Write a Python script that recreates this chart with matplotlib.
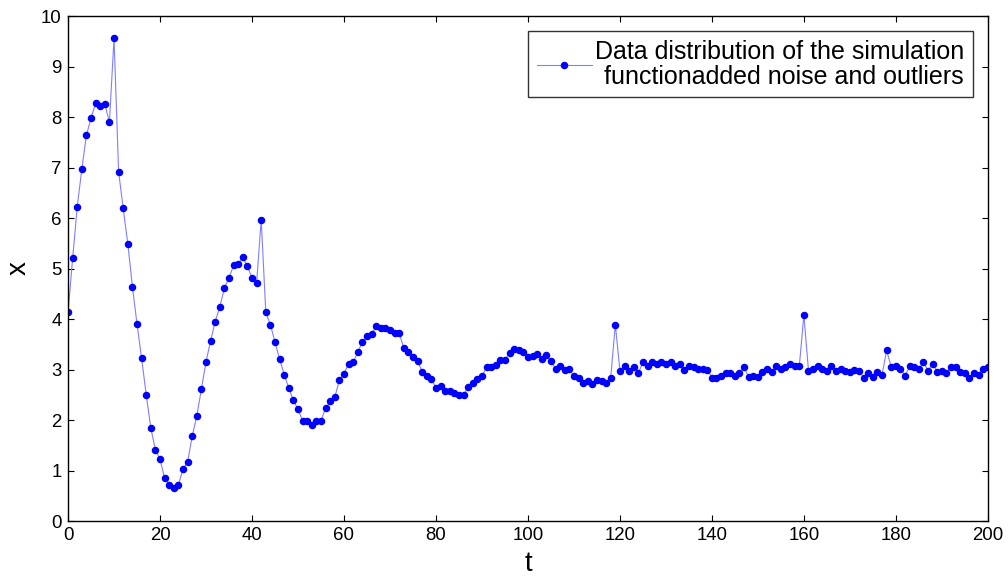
import numpy as np
import matplotlib
matplotlib.use("Agg")
import matplotlib.pyplot as plt

plt.rcParams["font.family"] = ["Liberation Sans", "DejaVu Sans"]

# values, one per integer t = 0..200
x_vals = [
    4.13, 5.20, 6.22, 6.97, 7.64, 7.98, 8.27, 8.21, 8.25, 7.90,   # 0-9
    9.56, 6.91, 6.19, 5.49, 4.64, 3.90, 3.22, 2.50, 1.84, 1.41,   # 10-19
    1.22, 0.85, 0.72, 0.66, 0.72, 1.03, 1.17, 1.68, 2.08, 2.61,   # 20-29
    3.15, 3.57, 3.95, 4.24, 4.61, 4.82, 5.06, 5.09, 5.22, 5.04,   # 30-39
    4.82, 4.71, 5.97, 4.13, 3.89, 3.54, 3.21, 2.90, 2.63, 2.39,   # 40-49
    2.21, 1.99, 1.99, 1.91, 1.99, 1.99, 2.23, 2.37, 2.45, 2.79,   # 50-59
    2.92, 3.11, 3.14, 3.35, 3.54, 3.66, 3.70, 3.86, 3.83, 3.83,   # 60-69
    3.78, 3.73, 3.72, 3.43, 3.35, 3.25, 3.17, 2.96, 2.88, 2.82,   # 70-79
    2.64, 2.68, 2.58, 2.58, 2.54, 2.49, 2.49, 2.66, 2.74, 2.82,   # 80-89
    2.88, 3.04, 3.04, 3.09, 3.19, 3.19, 3.33, 3.41, 3.38, 3.35,   # 90-99
    3.25, 3.27, 3.30, 3.21, 3.28, 3.17, 3.01, 3.06, 3.00, 3.01,   # 100-109
    2.87, 2.84, 2.74, 2.77, 2.71, 2.80, 2.77, 2.74, 2.84, 3.89,   # 110-119
    2.98, 3.06, 2.97, 3.04, 2.93, 3.14, 3.06, 3.14, 3.11, 3.14,   # 120-129
    3.11, 3.14, 3.06, 3.11, 3.00, 3.06, 3.04, 3.01, 3.01, 3.00,   # 130-139
    2.84, 2.84, 2.88, 2.94, 2.94, 2.88, 2.93, 3.04, 2.85, 2.88,   # 140-149
    2.85, 2.96, 3.01, 2.96, 3.07, 3.01, 3.04, 3.10, 3.06, 3.06,   # 150-159
    4.08, 2.98, 3.01, 3.07, 3.01, 2.97, 3.06, 2.97, 3.01, 2.98,   # 160-169
    2.96, 3.00, 2.98, 2.84, 2.93, 2.86, 2.96, 2.90, 3.38, 3.04,   # 170-179
    3.07, 3.01, 2.88, 3.06, 3.04, 3.01, 3.14, 2.98, 3.11, 2.96,   # 180-189
    2.98, 2.93, 3.04, 3.04, 2.96, 2.93, 2.84, 2.93, 2.90, 3.01,   # 190-199
    3.04,                                                         # 200
]
t_vals = np.arange(len(x_vals))

x_ticks = list(range(0, 201, 20))
y_ticks = list(range(0, 11))
legend_label = "Data distribution of the simulation\nfunctionadded noise and outliers"

fig = plt.figure(figsize=(10.08, 5.78), dpi=100)
ax = fig.add_axes([0.0675, 0.0986, 0.9125, 0.8737])

ax.plot(t_vals, x_vals, color="#7f7fff", lw=0.8, marker="o", ms=4.4,
        mfc="#0000ff", mec="#0000ff", label=legend_label)

ax.set_xlim(0, 200)
ax.set_ylim(0, 10)
ax.set_xticks(x_ticks)
ax.set_yticks(y_ticks)
ax.tick_params(direction="in", top=True, right=True, length=4, width=0.8,
               labelsize=13.4, pad=4.5)
for spine in ax.spines.values():
    spine.set_linewidth(1.0)

ax.set_xlabel("t", fontsize=20, labelpad=5)
ax.set_ylabel("x", fontsize=20, labelpad=7)

leg = ax.legend(loc="upper right", fontsize=18, frameon=True, fancybox=False,
                borderpad=0.35, handlelength=2.2, handletextpad=0.12,
                borderaxespad=0.6, labelspacing=0.2)
leg.get_frame().set_edgecolor("black")
leg.get_frame().set_linewidth(1.0)
for txt in leg.get_texts():
    txt.set_multialignment("right")
    txt.set_linespacing(1.05)

fig.savefig("out.png", dpi=100)
